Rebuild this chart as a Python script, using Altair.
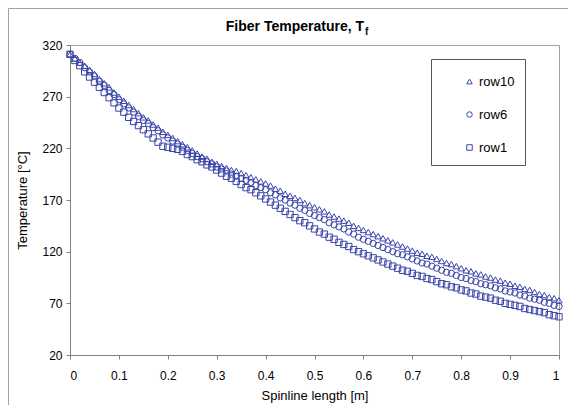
import altair as alt
import pandas as pd

x_vals = [round(i * 0.01, 2) for i in range(101)]

row1 = [311, 305, 300, 294, 289, 284, 279, 274, 269, 264,
        259, 255, 250, 246, 242, 238, 234, 230, 226, 222,
        221, 220, 219, 217, 214, 212, 209, 207, 204, 202,
        199, 196, 193, 191, 188, 185, 182, 180, 177, 174,
        171, 168, 165, 162, 159, 156, 153, 150, 148, 145,
        142, 139, 137, 134, 132, 129, 127, 125, 122, 120,
        118, 116, 114, 112, 110, 108, 106, 104, 102, 101,
        99, 97, 96, 94, 93, 91, 89, 88, 86, 85,
        83, 82, 80, 79, 77, 76, 75, 73, 72, 70,
        69, 68, 67, 65, 64, 63, 62, 61, 59, 58, 57]

row6 = [311, 307, 303, 298, 294, 290, 285, 281, 276, 272,
        267, 263, 259, 255, 251, 247, 244, 240, 237, 233,
        230, 227, 224, 221, 218, 215, 212, 210, 207, 205,
        202, 200, 198, 195, 193, 191, 189, 187, 184, 182,
        180, 177, 175, 172, 170, 167, 165, 162, 160, 157,
        155, 153, 151, 148, 146, 144, 142, 139, 137, 134,
        132, 130, 128, 126, 124, 122, 120, 118, 117, 115,
        113, 111, 109, 108, 106, 104, 102, 100, 99, 97,
        95, 94, 92, 91, 89, 88, 87, 85, 84, 82,
        81, 80, 78, 77, 75, 74, 73, 71, 70, 68, 67]

row10 = [311, 307, 303, 300, 296, 292, 287, 283, 279, 274,
         270, 266, 262, 258, 254, 250, 247, 243, 240, 236,
         233, 230, 227, 224, 221, 218, 215, 212, 210, 207,
         205, 203, 201, 199, 198, 196, 194, 192, 190, 188,
         186, 184, 181, 179, 176, 174, 172, 170, 167, 165,
         163, 161, 159, 156, 154, 152, 150, 148, 145, 143,
         141, 139, 137, 135, 133, 131, 129, 127, 125, 123,
         121, 119, 118, 116, 115, 113, 111, 109, 108, 106,
         104, 102, 101, 99, 98, 96, 95, 93, 92, 90,
         89, 87, 86, 84, 83, 81, 79, 78, 76, 75, 73]

series_names = ["row10", "row6", "row1"]
series_shapes = ["triangle-up", "circle", "square"]
y_ticks = [20, 70, 120, 170, 220, 270, 320]
x_ticks = [0, 0.1, 0.2, 0.3, 0.4, 0.5, 0.6, 0.7, 0.8, 0.9, 1]
title_main = "Fiber Temperature, T"
title_sub = "f"

rows = []
for name, vals in zip(series_names, [row10, row6, row1]):
    for xv, yv in zip(x_vals, vals):
        rows.append({"x": xv, "T": yv, "series": name})
df = pd.DataFrame(rows)

FONT = "Liberation Sans"
BLUE = "#3a44a8"

points = alt.Chart(df).mark_point(filled=False, size=40, strokeWidth=1, color=BLUE, opacity=1).encode(
    x=alt.X("x:Q", scale=alt.Scale(domain=[0, 1], nice=False),
            axis=alt.Axis(values=x_ticks, format="~g", title="Spinline length [m]", grid=False,
                          tickSize=4, labelPadding=11, titlePadding=8)),
    y=alt.Y("T:Q", scale=alt.Scale(domain=[20, 320], nice=False, zero=False),
            axis=alt.Axis(values=y_ticks, title="Temperature [°C]", grid=False,
                          tickSize=4, labelPadding=4, titlePadding=12)),
    shape=alt.Shape("series:N", scale=alt.Scale(domain=series_names, range=series_shapes),
                    legend=alt.Legend(title=" ", titleFontSize=6, titlePadding=0,
                                      orient="none", legendX=361, legendY=14,
                                      strokeColor="#555555", padding=10, rowPadding=19,
                                      symbolOffset=22, labelOffset=3, symbolSize=30,
                                      symbolStrokeColor=BLUE, symbolStrokeWidth=1,
                                      symbolFillColor="transparent",
                                      labelFontSize=13, labelFont=FONT, labelColor="#000000",
                                      labelExpr="datum.label + '\u00a0\u00a0\u00a0\u00a0\u00a0\u00a0'")),
)

title_a = alt.Chart(pd.DataFrame({"t": [title_main]})).mark_text(
    font=FONT, fontSize=14, fontWeight="bold", align="right", baseline="alphabetic", color="#000000"
).encode(text="t:N", x=alt.value(294), y=alt.value(-14))
title_b = alt.Chart(pd.DataFrame({"t": [title_sub]})).mark_text(
    font=FONT, fontSize=10, fontWeight="bold", align="left", baseline="alphabetic", color="#000000"
).encode(text="t:N", x=alt.value(295), y=alt.value(-10))

frame_left = alt.Chart(pd.DataFrame({"a": [0]})).mark_rule(color="#a0a0a0", strokeWidth=1).encode(
    x=alt.value(-61.5), y=alt.value(-36.5), y2=alt.value(360))
frame_top = alt.Chart(pd.DataFrame({"a": [0]})).mark_rule(color="#a0a0a0", strokeWidth=1).encode(
    x=alt.value(-61.5), x2=alt.value(500), y=alt.value(-36.5))

chart = alt.layer(frame_left, frame_top, points, title_a, title_b).properties(
    width=489, height=310,
    autosize=alt.AutoSizeParams(type="none"),
    padding={"left": 62, "top": 37, "right": 9, "bottom": 50},
).configure_view(stroke="#a0a0a0", strokeWidth=1, clip=False).configure_axis(
    domainColor="#808080", tickColor="#808080", labelFont=FONT, titleFont=FONT,
    labelFontSize=12, titleFontSize=13, labelColor="#000000", titleColor="#000000",
    titleFontWeight="normal"
)

chart.save("out.html", embed_options={"renderer": "svg", "actions": False})
